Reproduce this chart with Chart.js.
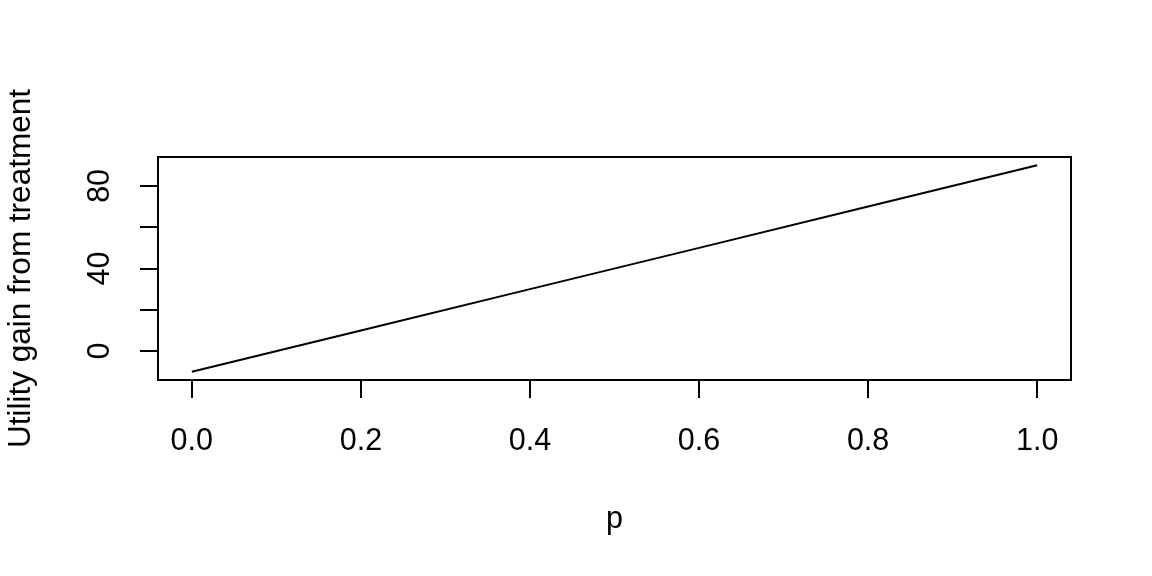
<!DOCTYPE html>
<html>
<head>
<meta charset="utf-8">
<script src="https://cdn.jsdelivr.net/npm/chart.js@4/dist/chart.umd.min.js"></script>
<style>
  html, body { margin: 0; padding: 0; background: #ffffff; }
  canvas { display: block; }
</style>
</head>
<body>
<canvas id="c" width="1152" height="576"></canvas>
<script>
// Data
const pValues = [0, 0.2, 0.4, 0.6, 0.8, 1.0];
const utilityGain = [-10, 10, 30, 50, 70, 90];
const xTicks = [0, 0.2, 0.4, 0.6, 0.8, 1.0];
const yTicks = [0, 20, 40, 60, 80];
const yTickLabels = ['0', '', '40', '', '80'];
const xTitle = 'p';
const yTitle = 'Utility gain from treatment';

const FONT = '"Liberation Sans", Arial, Helvetica, sans-serif';
const FS = 30.5;

const boxPlugin = {
  id: 'box',
  afterDraw(chart) {
    const {ctx, chartArea: a} = chart;
    ctx.save();
    ctx.strokeStyle = '#000';
    ctx.lineWidth = 2;
    ctx.strokeRect(a.left, a.top, a.right - a.left, a.bottom - a.top);
    ctx.restore();
  }
};

new Chart(document.getElementById('c'), {
  type: 'line',
  data: {
    datasets: [{
      data: pValues.map((p, i) => ({x: p, y: utilityGain[i]})),
      borderColor: '#000',
      borderWidth: 2,
      pointRadius: 0,
      fill: false,
      tension: 0
    }]
  },
  options: {
    responsive: false,
    animation: false,
    layout: { padding: { left: 0, top: 157, right: 81, bottom: 0 } },
    plugins: { legend: { display: false }, tooltip: { enabled: false } },
    scales: {
      x: {
        type: 'linear',
        min: -0.04, max: 1.04,
        afterBuildTicks: ax => { ax.ticks = xTicks.map(v => ({value: v})); },
        afterFit: ax => { ax.height = 196; },
        grid: { drawOnChartArea: false, drawTicks: true, tickLength: 18, color: '#000', lineWidth: 2 },
        border: { display: false },
        ticks: {
          color: '#000', padding: 25, maxRotation: 0, minRotation: 0, autoSkip: false,
          font: { family: FONT, size: FS },
          callback: v => v.toFixed(1)
        },
        title: {
          display: true, text: xTitle, color: '#000',
          font: { family: FONT, size: FS },
          padding: { top: 0, bottom: 38 }
        }
      },
      y: {
        type: 'linear',
        min: -14, max: 94,
        afterBuildTicks: ax => { ax.ticks = yTicks.map(v => ({value: v})); },
        afterFit: ax => { ax.width = 158; },
        grid: { drawOnChartArea: false, drawTicks: true, tickLength: 18, color: '#000', lineWidth: 2 },
        border: { display: false },
        ticks: {
          color: '#000', padding: 22, minRotation: 90, maxRotation: 90, crossAlign: 'center', autoSkip: false,
          font: { family: FONT, size: FS },
          callback: (v) => { const i = yTicks.indexOf(v); return i >= 0 ? yTickLabels[i] : ''; }
        },
        title: {
          display: true, text: yTitle, color: '#000',
          font: { family: FONT, size: 31.5 },
          padding: { top: 2, bottom: 0 }
        }
      }
    }
  },
  plugins: [boxPlugin]
});
</script>
</body>
</html>
